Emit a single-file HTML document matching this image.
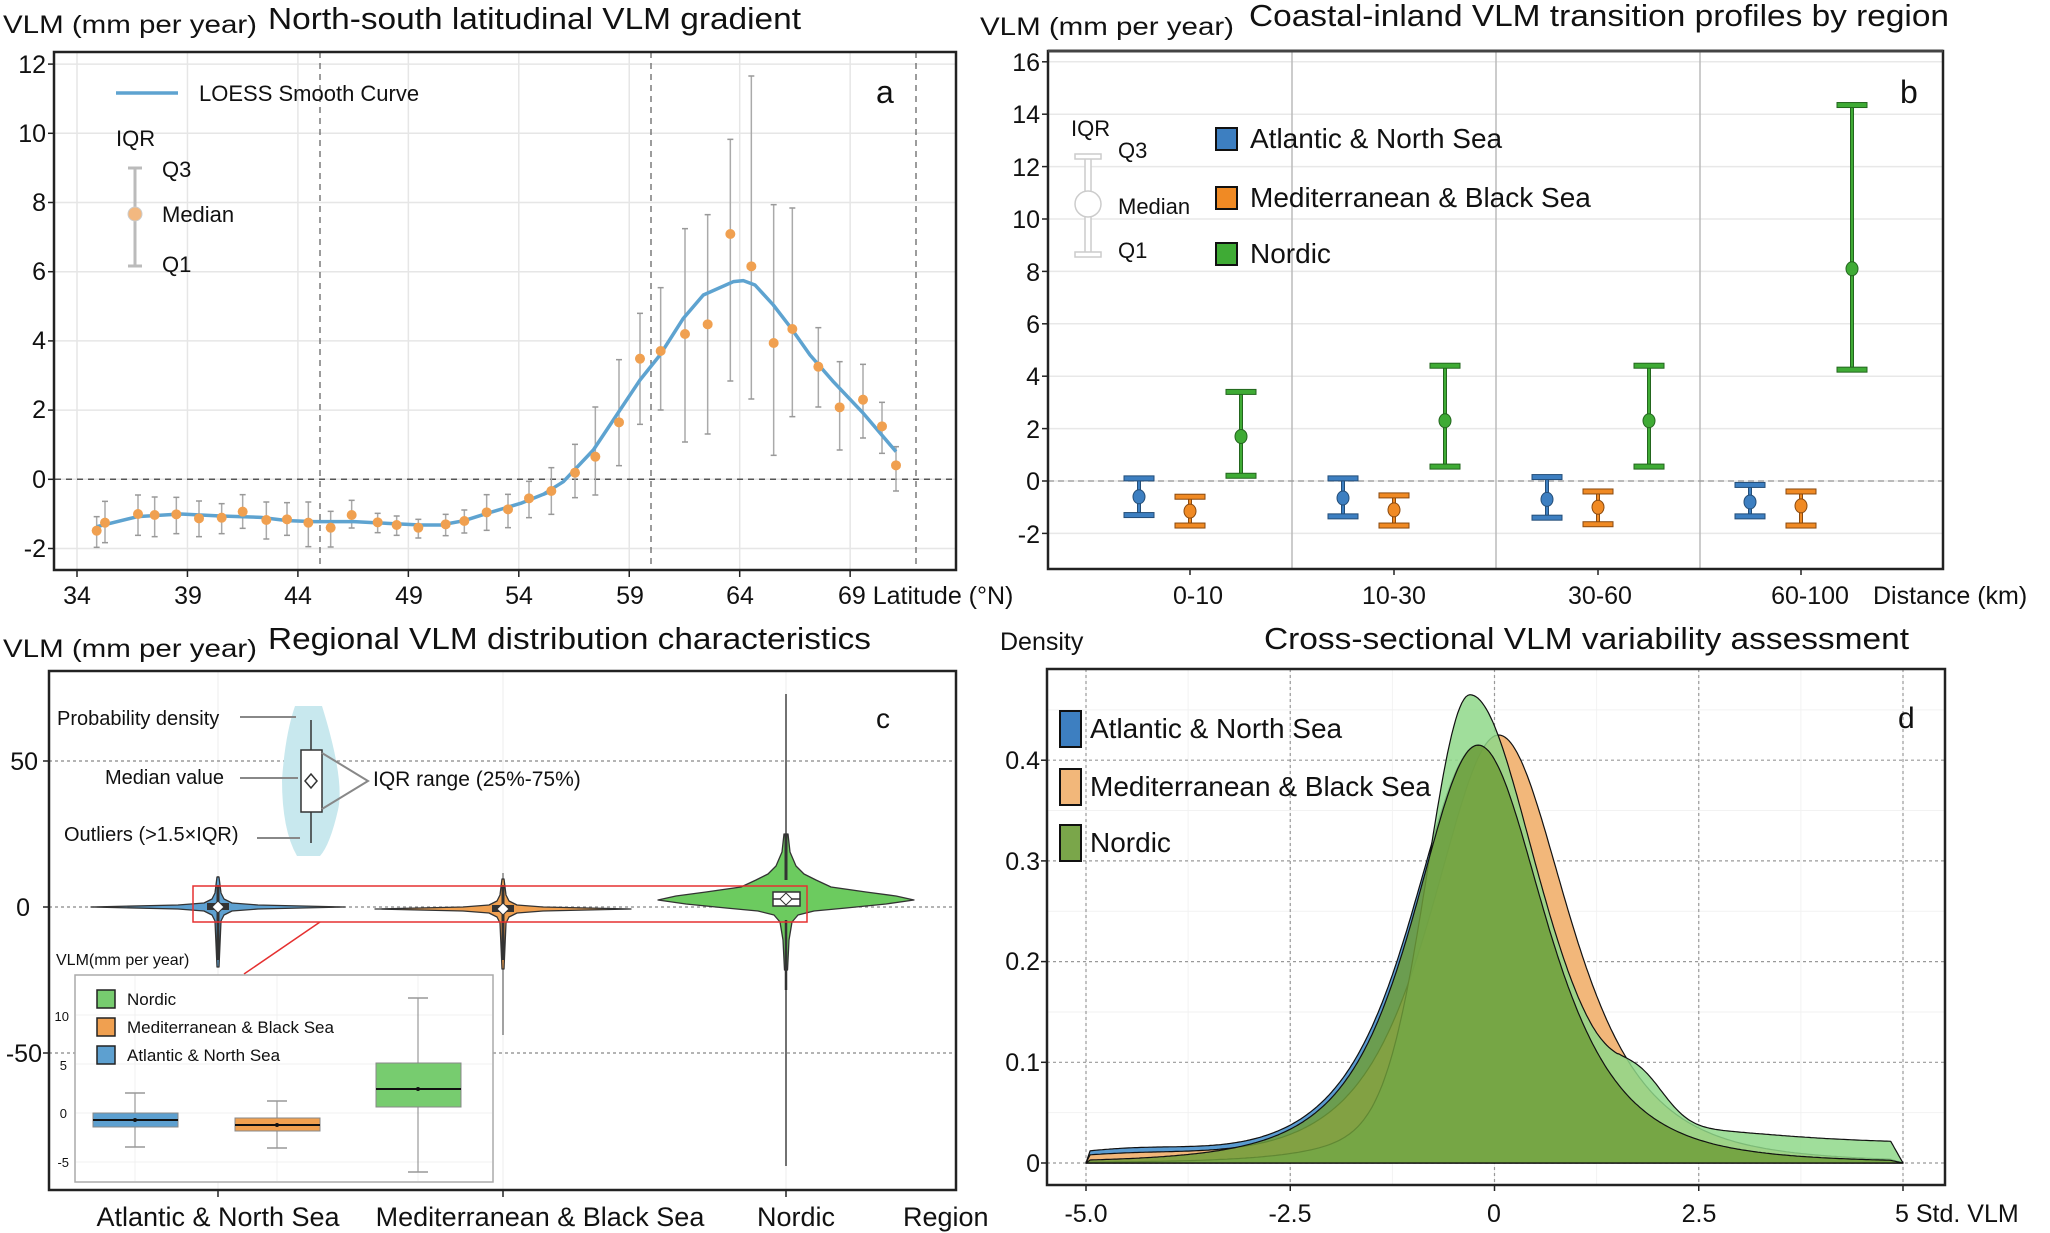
<!DOCTYPE html>
<html><head><meta charset="utf-8"><style>
html,body{margin:0;padding:0;background:#fff}
svg{display:block;font-family:"Liberation Sans",sans-serif}
</style></head><body>
<svg id="s" width="2050" height="1233" viewBox="0 0 2050 1233" xmlns="http://www.w3.org/2000/svg">
<rect width="2050" height="1233" fill="#fff"/>
<g id="ga"></g><g id="gb"></g><g id="gc"></g><g id="gd"></g>

<!-- Panel a text -->
<g font-size="25" fill="#111">
<text x="3" y="33" textLength="254" lengthAdjust="spacingAndGlyphs">VLM  (mm per year)</text>
<text x="268" y="29" font-size="31" textLength="533" lengthAdjust="spacingAndGlyphs">North-south latitudinal VLM gradient</text>
<g text-anchor="end">
<text x="46" y="73">12</text><text x="46" y="142">10</text><text x="46" y="211">8</text><text x="46" y="280">6</text><text x="46" y="349">4</text><text x="46" y="418">2</text><text x="46" y="488">0</text><text x="46" y="557">-2</text>
</g>
<g text-anchor="middle">
<text x="77" y="604">34</text><text x="188" y="604">39</text><text x="298" y="604">44</text><text x="409" y="604">49</text><text x="519" y="604">54</text><text x="630" y="604">59</text><text x="740" y="604">64</text>
</g>
<text x="838" y="604">69 Latitude (°N)</text>
<text x="199" y="101" font-size="22">LOESS Smooth Curve</text>
<text x="116" y="146" font-size="22">IQR</text>
<text x="162" y="177" font-size="22">Q3</text>
<text x="162" y="222" font-size="22">Median</text>
<text x="162" y="272" font-size="22">Q1</text>
<text x="876" y="103" font-size="32">a</text>
</g>

<!-- Panel b text -->
<g font-size="25" fill="#111">
<text x="980" y="35" textLength="254" lengthAdjust="spacingAndGlyphs">VLM  (mm per year)</text>
<text x="1249" y="26" font-size="31" textLength="700" lengthAdjust="spacingAndGlyphs">Coastal-inland VLM transition profiles by region</text>
<g text-anchor="end">
<text x="1040" y="71">16</text><text x="1040" y="123">14</text><text x="1040" y="176">12</text><text x="1040" y="228">10</text><text x="1040" y="281">8</text><text x="1040" y="333">6</text><text x="1040" y="385">4</text><text x="1040" y="438">2</text><text x="1040" y="490">0</text><text x="1040" y="543">-2</text>
</g>
<g text-anchor="middle">
<text x="1198" y="604">0-10</text><text x="1394" y="604">10-30</text><text x="1600" y="604">30-60</text><text x="1810" y="604">60-100</text>
</g>
<text x="1873" y="604">Distance (km)</text>
<text x="1071" y="136" font-size="22">IQR</text>
<text x="1118" y="158" font-size="22">Q3</text>
<text x="1118" y="214" font-size="22">Median</text>
<text x="1118" y="258" font-size="22">Q1</text>
<text x="1250" y="148" font-size="28">Atlantic &amp; North Sea</text>
<text x="1250" y="207" font-size="28">Mediterranean &amp; Black Sea</text>
<text x="1250" y="263" font-size="28">Nordic</text>
<text x="1900" y="103" font-size="32">b</text>
</g>

<!-- Panel c text -->
<g font-size="25" fill="#111">
<text x="3" y="657" textLength="254" lengthAdjust="spacingAndGlyphs">VLM  (mm per year)</text>
<text x="268" y="649" font-size="31" textLength="603" lengthAdjust="spacingAndGlyphs">Regional VLM distribution characteristics</text>
<g text-anchor="end">
<text x="38" y="770">50</text><text x="30" y="916">0</text><text x="42" y="1062">-50</text>
</g>
<g text-anchor="middle" font-size="27">
<text x="218" y="1226">Atlantic &amp; North Sea</text><text x="540" y="1226">Mediterranean &amp; Black Sea</text><text x="796" y="1226">Nordic</text>
</g>
<text x="903" y="1226" font-size="27">Region</text>
<text x="57" y="725" font-size="20">Probability density</text>
<text x="105" y="784" font-size="20">Median value</text>
<text x="64" y="841" font-size="20">Outliers (&gt;1.5×IQR)</text>
<text x="373" y="786" font-size="21">IQR range (25%-75%)</text>
<text x="56" y="965" font-size="16">VLM(mm per year)</text>
<text x="876" y="728" font-size="28">c</text>
<g font-size="17">
<text x="127" y="1005">Nordic</text>
<text x="127" y="1033">Mediterranean &amp; Black Sea</text>
<text x="127" y="1061">Atlantic &amp; North Sea</text>
</g>
<g font-size="13" text-anchor="end">
<text x="69" y="1021">10</text><text x="67" y="1070">5</text><text x="67" y="1118">0</text><text x="69" y="1167">-5</text>
</g>
</g>

<!-- Panel d text -->
<g font-size="25" fill="#111">
<text x="1000" y="650">Density</text>
<text x="1264" y="649" font-size="31" textLength="645" lengthAdjust="spacingAndGlyphs">Cross-sectional VLM variability assessment</text>
<g text-anchor="end">
<text x="1040" y="769">0.4</text><text x="1040" y="870">0.3</text><text x="1040" y="970">0.2</text><text x="1040" y="1071">0.1</text><text x="1040" y="1172">0</text>
</g>
<g text-anchor="middle">
<text x="1086" y="1222">-5.0</text><text x="1290" y="1222">-2.5</text><text x="1494" y="1222">0</text><text x="1699" y="1222">2.5</text>
</g>
<text x="1895" y="1222">5  Std. VLM</text>
<text x="1090" y="738" font-size="28">Atlantic &amp; North Sea</text>
<text x="1090" y="796" font-size="28">Mediterranean &amp; Black Sea</text>
<text x="1090" y="852" font-size="28">Nordic</text>
<text x="1898" y="728" font-size="30">d</text>
</g>
</svg>
<script>
const NS="http://www.w3.org/2000/svg";
function el(p,t,a){const e=document.createElementNS(NS,t);for(const k in a)e.setAttribute(k,a[k]);p.appendChild(e);return e;}
function line(p,x1,y1,x2,y2,st,w,da){return el(p,"line",{x1,y1,x2,y2,stroke:st,"stroke-width":w||1,"stroke-dasharray":da||""});}
// ---------- Panel a ----------
const ga=document.getElementById("ga");
const xa=l=>77+(l-34)*22.09, ya=v=>479.3-v*34.6;
for(let v=-2;v<=12;v+=2) line(ga,55,ya(v),955,ya(v),"#e6e6e6",1.5);
for(let l=34;l<=69;l+=5) line(ga,xa(l),52,xa(l),570,"#e6e6e6",1.5);
line(ga,55,ya(0),955,ya(0),"#555",1.5,"6,5");
[320,651,916].forEach(x=>line(ga,x,52,x,570,"#666",1.3,"6,5"));
for(let v=-2;v<=12;v+=2) line(ga,48,ya(v),55,ya(v),"#222",1.5);
for(let l=34;l<=69;l+=5) line(ga,xa(l),570,xa(l),577,"#222",1.5);
const p5=[[128,452,410,502],[153,428,364,488],[252,402,345,466],[302,405,351,470],[367,403,352,461],[435,415,363,470],[503,413,371,461],[566,395,344,445],[637,420,366,477],[699,418,368,466],[763,428,366,500],[830,443,394,501],[893,405,361,444],[971,427,400,458],[1028,435,408,466],[1093,443,418,474],[1175,433,403,467],[1231,423,390,459],[1298,397,344,451],[1362,388,343,443],[1425,355,304,413],[1492,333,263,403]];
const p6=[[225,1238,1153,1313],[286,1190,1041,1305],[357,1087,899,1217],[420,896,760,1093],[482,873,683,1050],[555,822,506,1146],[623,793,464,1122],[691,522,238,963],[754,619,48,1017],[821,849,434,1186],[877,807,444,1070],[955,920,803,1041],[1019,1042,905,1170],[1089,1019,913,1134],[1146,1099,1027,1180],[1188,1216,1160,1293]];
const pts=p5.map(p=>[54+p[0]/3,380+p[1]/3,380+p[2]/3,380+p[3]/3]).concat(p6.map(p=>[500+p[0]/3,60+p[1]/3,60+p[2]/3,60+p[3]/3]));
pts.forEach(p=>{line(ga,p[0],p[2],p[0],p[3],"#aaa",1.5);line(ga,p[0]-3,p[2],p[0]+3,p[2],"#999",1.5);line(ga,p[0]-3,p[3],p[0]+3,p[3],"#999",1.5);});
const c5=[[128,440],[250,410],[380,402],[500,408],[620,412],[700,422],[780,425],[900,425],[1000,430],[1100,435],[1160,435],[1230,422],[1300,400],[1400,370],[1500,330]].map(p=>[54+p[0]/3,380+p[1]/3]);
const c6=[[130,1303],[190,1265],[280,1170],[350,1065],[420,960],[480,885],[550,775],[610,705],[700,665],[730,662],[765,675],[820,735],[870,800],[930,885],[1000,965],[1090,1060],[1188,1175]].map(p=>[500+p[0]/3,60+p[1]/3]);
const cc=c5.concat(c6);
el(ga,"polyline",{points:cc.map(p=>p.join(",")).join(" "),fill:"none",stroke:"#5ea3d0","stroke-width":3.5,"stroke-linejoin":"round"});
pts.forEach(p=>el(ga,"circle",{cx:p[0],cy:p[1],r:5,fill:"#f0a050"}));
el(ga,"rect",{x:54,y:52,width:902,height:518,fill:"none",stroke:"#222","stroke-width":2.5});
line(ga,116,93,178,93,"#5ea3d0",3.5);
line(ga,135,168,135,266,"#bbb",3);line(ga,128,168,142,168,"#bbb",3);line(ga,128,266,142,266,"#bbb",3);
el(ga,"circle",{cx:135,cy:214,r:7,fill:"#f2b880",stroke:"#ccc"});
// ---------- Panel b ----------
const gb=document.getElementById("gb");
const yb=v=>481-v*26.2;
for(let v=-2;v<=16;v+=2) line(gb,1048,yb(v),1943,yb(v),"#e8e8e8",1.5);
[1292,1496,1700].forEach(x=>line(gb,x,51,x,569,"#bbb",1.5));
line(gb,1048,yb(0),1943,yb(0),"#999",1.3,"6,4");
for(let v=-2;v<=16;v+=2) line(gb,1042,yb(v),1048,yb(v),"#222",1.5);
const cats=[1190,1394,1598,1801];
cats.forEach(x=>line(gb,x,569,x,575,"#222",1.5));
const bd=[[[-0.6,-1.3,0.1],[-1.15,-1.7,-0.6],[1.7,0.2,3.4]],[[-0.65,-1.35,0.1],[-1.1,-1.7,-0.55],[2.3,0.55,4.4]],[[-0.7,-1.4,0.15],[-1.0,-1.65,-0.4],[2.3,0.55,4.4]],[[-0.8,-1.35,-0.15],[-0.95,-1.7,-0.4],[8.1,4.25,14.35]]];
const bc=[["#3d7fc1","#244e78"],["#f08a24","#8a4a10"],["#3fab35","#23661e"]];
bd.forEach((g,i)=>g.forEach((d,j)=>{const x=cats[i]+(j-1)*51,c=bc[j];
 line(gb,x,yb(d[2]),x,yb(d[1]),c[1],4);line(gb,x,yb(d[2]),x,yb(d[1]),c[0],2);
 [d[1],d[2]].forEach(v=>el(gb,"rect",{x:x-15,y:yb(v)-2.5,width:30,height:5,fill:c[0],stroke:c[1],"stroke-width":1}));
 el(gb,"ellipse",{cx:x,cy:yb(d[0]),rx:6,ry:7,fill:c[0],stroke:c[1],"stroke-width":1});}));
el(gb,"rect",{x:1048,y:51,width:895,height:518,fill:"none",stroke:"#222","stroke-width":2.5});
line(gb,1048,51,1943,51,"#444",3);
el(gb,"rect",{x:1085,y:156,width:6,height:99,fill:"#fff",stroke:"#ccc","stroke-width":1.5});
el(gb,"rect",{x:1075,y:154,width:26,height:5,fill:"#fff",stroke:"#ccc","stroke-width":1.5});
el(gb,"rect",{x:1075,y:252,width:26,height:5,fill:"#fff",stroke:"#ccc","stroke-width":1.5});
el(gb,"ellipse",{cx:1088,cy:204,rx:13,ry:13,fill:"#fff",stroke:"#ccc","stroke-width":1.5});
[["#3d7fc1",139],["#f08a24",198],["#3fab35",254]].forEach(a=>el(gb,"rect",{x:1216,y:a[1]-11,width:21,height:22,fill:a[0],stroke:"#111","stroke-width":2}));
// ---------- Panel c ----------
const gc=document.getElementById("gc");
const yc=v=>907-v*2.92;
[218,503,786].forEach(x=>line(gc,x,671,x,1190,"#eee",1));
[50,0,-50].forEach(v=>line(gc,49,yc(v),956,yc(v),"#888",1.2,"3,3"));
[50,0,-50].forEach(v=>line(gc,43,yc(v),49,yc(v),"#222",1.5));
[218,503,786].forEach(x=>line(gc,x,1190,x,1197,"#222",1.5));
function violin(cx,cy,prof,fill){
 const L=prof.map(p=>[cx-p[1],cy+p[0]]),R=prof.slice().reverse().map(p=>[cx+p[1],cy+p[0]]);
 el(gc,"polygon",{points:L.concat(R).map(p=>p.join(",")).join(" "),fill,stroke:"#333","stroke-width":1.3,"stroke-linejoin":"round"});}
const thin=[[-30,1],[-14,3],[-8,6],[-4,14],[-2,40],[0,127],[2,40],[4,14],[8,6],[14,3],[60,1]];
line(gc,218,876,218,967,"#444",1);
violin(218,907,thin,"#5da0d0");
line(gc,218,885,218,960,"#333",3);
el(gc,"rect",{x:207,y:903,width:22,height:7,fill:"#333"});
el(gc,"path",{d:"M218 901 l6 6 l-6 6 l-6 -6z",fill:"#fff",stroke:"#333"});
line(gc,503,873,503,1035,"#444",1);
violin(503,909,[[-30,1],[-14,3],[-8,6],[-4,14],[-2,40],[0,128],[2,40],[4,14],[8,6],[14,3],[60,1]],"#f0a050");
line(gc,503,885,503,960,"#333",3);
el(gc,"rect",{x:492,y:905,width:22,height:7,fill:"#333"});
el(gc,"path",{d:"M503 903 l6 6 l-6 6 l-6 -6z",fill:"#fff",stroke:"#333"});
line(gc,786,694,786,1166,"#444",1.5);
violin(786,900,[[-66,2],[-48,4],[-34,10],[-26,18],[-20,30],[-13,45],[-8,80],[-4,110],[0,128],[4,100],[8,60],[11,28],[15,12],[22,6],[40,3],[70,1.5]],"#6ccb5f");
line(gc,786,834,786,880,"#333",3);line(gc,786,920,786,990,"#333",2.5);
el(gc,"rect",{x:773,y:892,width:27,height:14,fill:"#fff",stroke:"#333","stroke-width":1.5});
line(gc,773,899,800,899,"#333",1.5);
el(gc,"path",{d:"M786 893 l6 6 l-6 6 l-6 -6z",fill:"#fff",stroke:"#333"});
el(gc,"path",{d:"M295 706 L322 706 Q345 780 338 810 Q330 845 320 856 L297 856 Q282 830 282 780 Q285 735 295 706Z",fill:"#c8e8ee"});
line(gc,311,720,311,843,"#333",1.5);
el(gc,"rect",{x:301,y:750,width:21,height:62,fill:"#fff",stroke:"#333","stroke-width":1.5});
el(gc,"path",{d:"M311 774 l6 7 l-6 7 l-6 -7z",fill:"#fff",stroke:"#333","stroke-width":1.5});
line(gc,240,717,296,717,"#888",2);line(gc,240,778,298,778,"#888",2);line(gc,257,838,300,838,"#888",2);
el(gc,"polyline",{points:"322,753 368,781 322,809",fill:"none",stroke:"#888","stroke-width":2});
el(gc,"rect",{x:193,y:886,width:614,height:36,fill:"none",stroke:"#e53030","stroke-width":1.5});
line(gc,320,922,244,974,"#e53030",1.5);
el(gc,"rect",{x:75,y:975,width:418,height:207,fill:"#fff",stroke:"#aaa","stroke-width":1.5});
const yi=v=>1113-v*9.8;
[10,5,0,-5].forEach(v=>line(gc,76,yi(v),492,yi(v),"#f0f0f0",1));
[135,277,418].forEach(x=>line(gc,x,976,x,1181,"#f0f0f0",1));
function ib(cx,q1,q3,med,lo,hi,f){line(gc,cx,hi,cx,lo,"#999",1.2);line(gc,cx-10,hi,cx+10,hi,"#999",1.5);line(gc,cx-10,lo,cx+10,lo,"#999",1.5);
 el(gc,"rect",{x:cx-42,y:q3,width:85,height:q1-q3,fill:f,stroke:"#888","stroke-width":1});line(gc,cx-42,med,cx+43,med,"#111",2);el(gc,"circle",{cx,cy:med,r:2,fill:"#111"});}
ib(135,1127,1113,1120,1147,1093,"#5da0d0");
ib(277,1131,1118,1125,1148,1101,"#f0a050");
ib(418,1107,1063,1089,1172,998,"#77cc6f");
[["#77cc6f",999],["#f0a050",1027],["#5da0d0",1055]].forEach(a=>el(gc,"rect",{x:97,y:a[1]-9,width:18,height:18,fill:a[0],stroke:"#222","stroke-width":1.5}));
el(gc,"rect",{x:49,y:671,width:907,height:519,fill:"none",stroke:"#222","stroke-width":2.5});
// ---------- Panel d ----------
const gd=document.getElementById("gd");
const xd=s=>1086+(s+5)*81.7, yd=p=>1163-p*1007;
for(let s=-5;s<=5;s+=1.25) line(gd,xd(s),669,xd(s),1185,"#f2f2f2",1);
for(let p=0.05;p<0.46;p+=0.1) line(gd,1047,yd(p),1945,yd(p),"#f2f2f2",1);
[-5,-2.5,0,2.5,5].forEach(s=>line(gd,xd(s),669,xd(s),1185,"#999",1.2,"3,3"));
[0,0.1,0.2,0.3,0.4].forEach(p=>line(gd,1047,yd(p),1945,yd(p),"#999",1.2,"3,3"));
[0,0.1,0.2,0.3,0.4].forEach(p=>line(gd,1041,yd(p),1047,yd(p),"#222",1.5));
[-5,-2.5,0,2.5,5].forEach(s=>line(gd,xd(s),1185,xd(s),1191,"#222",1.5));
function tt(x,mu,p,gl,gr){const u=(x-mu)/(x<mu?gl:gr);return p/Math.pow(1+u*u,2);}
const fB=x=>tt(x,-0.2,0.415,1.5,1.5)+0.01*Math.exp(-((x+4.5)**2)/1.5)+0.012*Math.exp(-((x-2.3)**2)/0.5);
const fO=x=>tt(x,0.05,0.425,1.5,1.55)+0.006*Math.exp(-((x+4.5)**2)/1.5);
const fG=x=>{const d=x+0.3;let v;if(d<0)v=0.465*(0.8*Math.exp(-d*d/(2*0.5*0.5))+0.2/Math.pow(1+d*d/2.25,2));else v=tt(x,-0.3,0.465,1,1.6);
 v+=0.03*Math.exp(-((x-1.8)**2)/(2*0.3*0.3));if(x>1.5)v+=0.018/(1+Math.exp(-(x-2.6)*3));return v;};
const fN=x=>tt(x,-0.2,0.415,1.45,1.5);
function area(f,fill,op){let d="M"+xd(-5)+","+yd(0);for(let i=0;i<=400;i++){const x=-5+i*10/400;let v=f(x);if(x>4.85)v*=Math.max(0,(5-x)/0.15);if(x<-4.95)v*=Math.max(0,(x+5)/0.05);d+=" L"+xd(x).toFixed(1)+","+yd(v).toFixed(1);}d+=" L"+xd(5)+","+yd(0)+"Z";
 el(gd,"path",{d,fill,"fill-opacity":op,stroke:"#111","stroke-width":1.2,"stroke-linejoin":"round"});}
area(fB,"#5a9bd0",1);
area(fO,"#f2b77a",1);
area(fG,"#8fd88a",0.85);
area(fN,"#6f9e3a",0.85);
el(gd,"rect",{x:1047,y:669,width:898,height:516,fill:"none",stroke:"#222","stroke-width":2.5});
[["#3d7fc1",729],["#f2b77a",787],["#7aa64a",843]].forEach(a=>el(gd,"rect",{x:1060,y:a[1]-18,width:21,height:36,fill:a[0],stroke:"#111","stroke-width":2}));
</script>
</body></html>
